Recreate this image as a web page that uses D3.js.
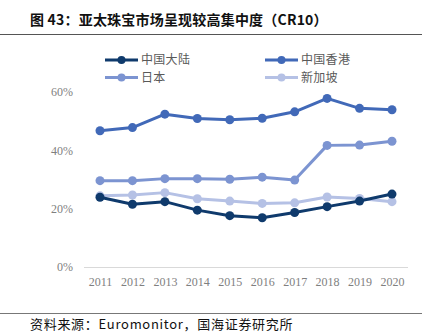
<!DOCTYPE html>
<html>
<head>
<meta charset="utf-8">
<script src="https://cdn.jsdelivr.net/npm/d3@7"></script>
<style>
  body { margin: 0; background: #fff; }
  svg { display: block; }
</style>
</head>
<body>
<div id="chart"></div>
<script>
(function() {
  var width = 433,
    height = 334;

  // years along the bottom
  var years = ["2011", "2012", "2013", "2014", "2015", "2016", "2017", "2018", "2019", "2020"];

  // CR10 share per market, in percent
  var mainland = [23.9, 21.5, 22.4, 19.5, 17.6, 16.9, 18.7, 20.7, 22.6, 25.0];
  var hongkong = [46.7, 47.8, 52.4, 50.9, 50.5, 51.0, 53.2, 57.8, 54.4, 53.9];
  var japan = [29.6, 29.6, 30.3, 30.3, 30.1, 30.8, 29.8, 41.7, 41.8, 43.1];
  var singapore = [24.4, 24.7, 25.5, 23.4, 22.6, 21.8, 22.0, 24.0, 23.5, 22.4];

  var yTicks = [0, 20, 40, 60];

  var series = [
    { name: "中国大陆", values: mainland, color: "#0f3a6c" },
    { name: "中国香港", values: hongkong, color: "#4169b8" },
    { name: "日本", values: japan, color: "#7c94d1" },
    { name: "新加坡", values: singapore, color: "#b5c1e5" }
  ];

  var svg = d3.select("#chart")
    .append("svg")
    .attr("width", width)
    .attr("height", height);

  // title + rules
  svg.append("text")
    .attr("x", 30)
    .attr("y", 25)
    .attr("font-family", "'Noto Sans CJK SC', sans-serif")
    .attr("font-weight", "bold")
    .attr("font-size", 14)
    .attr("letter-spacing", 0.2)
    .attr("fill", "#111")
    .text("图 43：亚太珠宝市场呈现较高集中度（CR10）");

  svg.append("line")
    .attr("x1", 0).attr("x2", 422)
    .attr("y1", 34.5).attr("y2", 34.5)
    .attr("stroke", "#555").attr("stroke-width", 1);

  svg.append("line")
    .attr("x1", 0).attr("x2", 422)
    .attr("y1", 313.5).attr("y2", 313.5)
    .attr("stroke", "#777").attr("stroke-width", 1);

  svg.append("text")
    .attr("x", 30)
    .attr("y", 329)
    .attr("font-family", "'Noto Sans CJK SC', sans-serif")
    .attr("font-size", 13)
    .attr("letter-spacing", 0.7)
    .attr("fill", "#111")
    .text("资料来源：Euromonitor，国海证券研究所");

  var x = d3.scalePoint()
    .domain(years)
    .range([100, 392]);

  var y = d3.scaleLinear()
    .domain([0, 60])
    .range([267, 92]);

  // baseline
  svg.append("line")
    .attr("x1", 84).attr("x2", 408)
    .attr("y1", y(0) + 0.5).attr("y2", y(0) + 0.5)
    .attr("stroke", "#d9d9d9").attr("stroke-width", 1);

  var yAxis = svg.append("g")
    .attr("transform", "translate(73,0)")
    .call(d3.axisLeft(y).tickValues(yTicks).tickSize(0).tickPadding(0)
      .tickFormat(function(d) { return d + "%"; }));
  yAxis.select(".domain").remove();
  yAxis.selectAll("text")
    .attr("font-family", "'Liberation Serif', serif")
    .attr("font-size", 12)
    .attr("fill", "#7f7f7f");

  var xAxis = svg.append("g")
    .attr("transform", "translate(0," + (y(0) + 10) + ")")
    .call(d3.axisBottom(x).tickSize(0).tickPadding(0));
  xAxis.select(".domain").remove();
  xAxis.selectAll("text")
    .attr("font-family", "'Liberation Serif', serif")
    .attr("font-size", 12)
    .attr("fill", "#7f7f7f");

  var line = d3.line()
    .x(function(d, i) { return x(years[i]); })
    .y(function(d) { return y(d); });

  // draw from back to front so the darker lines sit on top where they cross
  var order = [series[3], series[2], series[1], series[0]];
  order.forEach(function(s) {
    svg.append("path")
      .datum(s.values)
      .attr("d", line)
      .attr("fill", "none")
      .attr("stroke", s.color)
      .attr("stroke-width", 3)
      .attr("stroke-linejoin", "round");

    svg.selectAll(null)
      .data(s.values)
      .enter().append("circle")
      .attr("cx", function(d, i) { return x(years[i]); })
      .attr("cy", function(d) { return y(d); })
      .attr("r", 4.5)
      .attr("fill", s.color);
  });

  // legend, two columns
  var legend = svg.selectAll(".legend")
    .data(series)
    .enter().append("g")
    .attr("class", "legend")
    .attr("transform", function(d, i) {
      return "translate(" + (i % 2 === 0 ? 105 : 265) + "," + (i < 2 ? 60 : 77.5) + ")";
    });

  legend.append("line")
    .attr("x1", 0).attr("x2", 33)
    .attr("y1", 0).attr("y2", 0)
    .attr("stroke", function(d) { return d.color; })
    .attr("stroke-width", 3);

  legend.append("circle")
    .attr("cx", 16.5).attr("cy", 0).attr("r", 4)
    .attr("fill", function(d) { return d.color; });

  legend.append("text")
    .attr("x", 36)
    .attr("y", 0)
    .attr("dy", "0.35em")
    .attr("font-family", "'Noto Sans CJK SC', sans-serif")
    .attr("font-size", 12)
    .attr("letter-spacing", 0.3)
    .attr("fill", "#595959")
    .text(function(d) { return d.name; });
})();
</script>
</body>
</html>
